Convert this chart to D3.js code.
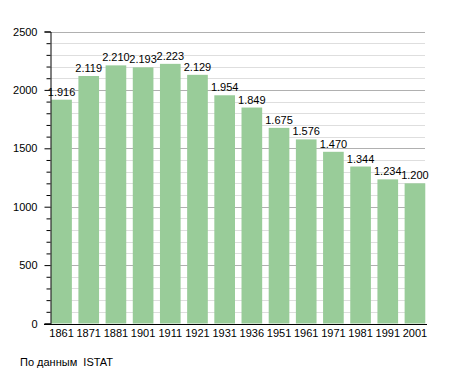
<!DOCTYPE html>
<html>
<head>
<meta charset="utf-8">
<script src="https://cdn.jsdelivr.net/npm/d3@7"></script>
<style>
  body { margin: 0; background: #fff; }
  text { font-family: "Liberation Sans", Arial, sans-serif; font-size: 11px; fill: #000; }
</style>
</head>
<body>
<svg width="455" height="373"></svg>
<script>
const years = ['1861', '1871', '1881', '1901', '1911', '1921', '1931', '1936', '1951', '1961', '1971', '1981', '1991', '2001']
const population = [1916, 2119, 2210, 2193, 2223, 2129, 1954, 1849, 1675, 1576, 1470, 1344, 1234, 1200]
const yTicks = [0, 500, 1000, 1500, 2000, 2500]
const source = 'По данным  ISTAT'

const svg = d3.select('svg')
const fmt = d => d3.format(',')(d).replace(',', '.')

const x = d3.scaleBand()
    .domain(years)
    .range([48.5, 428])
    .paddingInner(0.24)
    .paddingOuter(0.1)

const y = d3.scaleLinear()
    .domain([0, 2500])
    .range([323.5, 31.5])

const left = 50.5, right = 425

// grid lines
const minor = d3.range(100, 2501, 100).filter(v => v % 500 !== 0)
svg.append('g').selectAll('line')
    .data(minor)
    .join('line')
    .attr('x1', left).attr('x2', right)
    .attr('y1', d => Math.round(y(d)) + 0.5).attr('y2', d => Math.round(y(d)) + 0.5)
    .attr('stroke', '#dedede')

svg.append('g').selectAll('line')
    .data(yTicks.filter(d => d > 0))
    .join('line')
    .attr('x1', left).attr('x2', right)
    .attr('y1', d => Math.round(y(d)) + 0.5).attr('y2', d => Math.round(y(d)) + 0.5)
    .attr('stroke', '#b0b0b0')

// bars
svg.append('g').selectAll('rect')
    .data(years)
    .join('rect')
    .attr('x', d => x(d))
    .attr('width', x.bandwidth())
    .attr('y', (d, i) => y(population[i]))
    .attr('height', (d, i) => y(0) - y(population[i]))
    .attr('fill', '#99cc99')

// value labels
svg.append('g').selectAll('text')
    .data(years)
    .join('text')
    .attr('x', d => x(d) + x.bandwidth() / 2)
    .attr('y', (d, i) => y(population[i]) - 4)
    .attr('text-anchor', 'middle')
    .text((d, i) => fmt(population[i]))

// y axis
const yAxis = d3.axisLeft(y)
    .tickValues(yTicks)
    .tickFormat(d3.format('d'))
    .tickSize(6)
    .tickPadding(7)
const ya = svg.append('g')
    .attr('transform', `translate(${left},0)`)
    .call(yAxis)
ya.select('.domain').attr('stroke', '#000')
ya.selectAll('.tick line').attr('stroke', '#000')
ya.selectAll('.tick text').attr('font-size', 11).attr('font-family', null)

const yMinor = d3.axisLeft(y)
    .tickValues(minor)
    .tickSize(4)
    .tickFormat('')
const ym = svg.append('g')
    .attr('transform', `translate(${left},0)`)
    .call(yMinor)
ym.select('.domain').remove()
ym.selectAll('.tick line').attr('stroke', '#000')

// x axis
const xAxis = d3.axisBottom(x)
    .tickSize(0)
    .tickPadding(5)
const xa = svg.append('g')
    .attr('transform', `translate(0,${Math.round(y(0)) + 0.5})`)
    .call(xAxis)
xa.select('.domain').remove()
xa.selectAll('.tick text').attr('font-size', 11).attr('font-family', null)

svg.append('line')
    .attr('x1', 44).attr('x2', 427)
    .attr('y1', Math.round(y(0)) + 0.5).attr('y2', Math.round(y(0)) + 0.5)
    .attr('stroke', '#000')

svg.append('text')
    .attr('x', 20)
    .attr('y', 366)
    .style('white-space', 'pre')
    .attr('font-size', 10.5)
    .text(source)
</script>
</body>
</html>
